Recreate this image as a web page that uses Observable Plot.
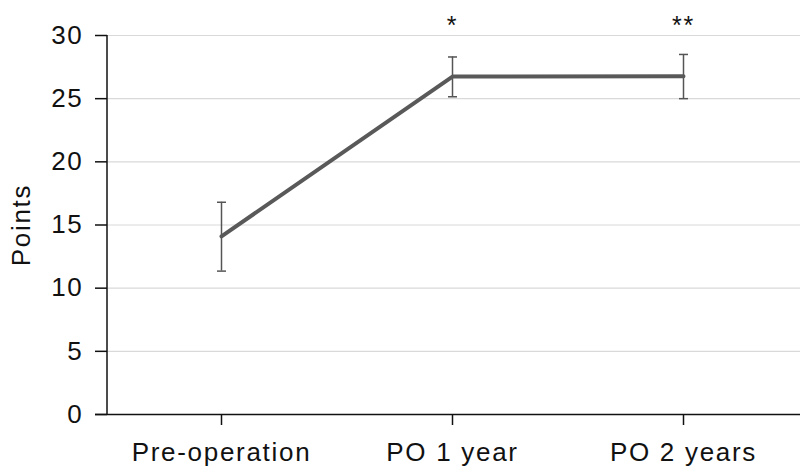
<!DOCTYPE html>
<html>
<head>
<meta charset="utf-8">
<script src="https://cdn.jsdelivr.net/npm/d3@7"></script>
<script src="https://cdn.jsdelivr.net/npm/@observablehq/plot@0.6"></script>
<style>
  html, body { margin: 0; padding: 0; background: #fff; }
  #chart svg { display: block; }
</style>
</head>
<body>
<div id="chart"></div>
<script>
const categories = ["Pre-operation", "PO 1 year", "PO 2 years"];
const means = [14.1, 26.75, 26.78];
const upper = [16.8, 28.3, 28.5];
const lower = [11.35, 25.15, 25.0];
const marks = ["", "*", "**"];
const yTicks = [0, 5, 10, 15, 20, 25, 30];

const data = categories.map((c, i) => ({cat: c, mean: means[i], hi: upper[i], lo: lower[i], sig: marks[i]}));

const font = "'Liberation Sans', Arial, Helvetica, sans-serif";
const capSymbol = {draw(ctx) { ctx.moveTo(-4.5, 0); ctx.lineTo(4.5, 0); }};

const plot = Plot.plot({
  width: 800,
  height: 476,
  marginTop: 35,
  marginBottom: 62,
  marginLeft: 107,
  marginRight: 3,
  style: {fontFamily: font, fontSize: "26px", letterSpacing: "1.7px", color: "#111", background: "#fff"},
  x: {type: "point", domain: categories, padding: 0.49, label: null},
  y: {domain: [0, 30], label: null},
  marks: [
    Plot.ruleY(yTicks.filter(d => d > 0), {stroke: "#d9d9d9", strokeWidth: 1.2, insetRight: -3}),
    Plot.ruleY([0], {stroke: "#111", strokeWidth: 1.5, insetLeft: -12, insetRight: -3}),
    Plot.axisY({ticks: yTicks, tickSize: 12, tickPadding: 12, stroke: "#111", strokeWidth: 1.5, label: null, fill: "#111", fontSize: 26}),
    Plot.axisX({tickSize: 11, tickPadding: 17, stroke: "#111", strokeWidth: 1.5, label: null, fill: "#111", fontSize: 26}),
    Plot.ruleX(data, {x: "cat", y1: "lo", y2: "hi", stroke: "#555", strokeWidth: 1.5}),
    Plot.dot(data, {x: "cat", y: "hi", symbol: capSymbol, stroke: "#555", strokeWidth: 1.5, fill: "none"}),
    Plot.dot(data, {x: "cat", y: "lo", symbol: capSymbol, stroke: "#555", strokeWidth: 1.5, fill: "none"}),
    Plot.line(data, {x: "cat", y: "mean", stroke: "#595959", strokeWidth: 4}),
    Plot.text(data, {x: "cat", text: "sig", frameAnchor: "top", dy: -19, fill: "#111", fontSize: 25}),
    Plot.text(["Points"], {frameAnchor: "left", textAnchor: "middle", dx: -86, rotate: -90, fill: "#111", fontSize: 26})
  ]
});

// y axis line along the left edge of the frame, from the scales' own ranges
const xr = plot.scale("x").range;
const yr = plot.scale("y").range;
d3.select(plot).append("line")
  .attr("x1", xr[0]).attr("x2", xr[0])
  .attr("y1", Math.min(...yr)).attr("y2", Math.max(...yr))
  .attr("stroke", "#111").attr("stroke-width", 1.5);

document.getElementById("chart").appendChild(plot);
</script>
</body>
</html>
